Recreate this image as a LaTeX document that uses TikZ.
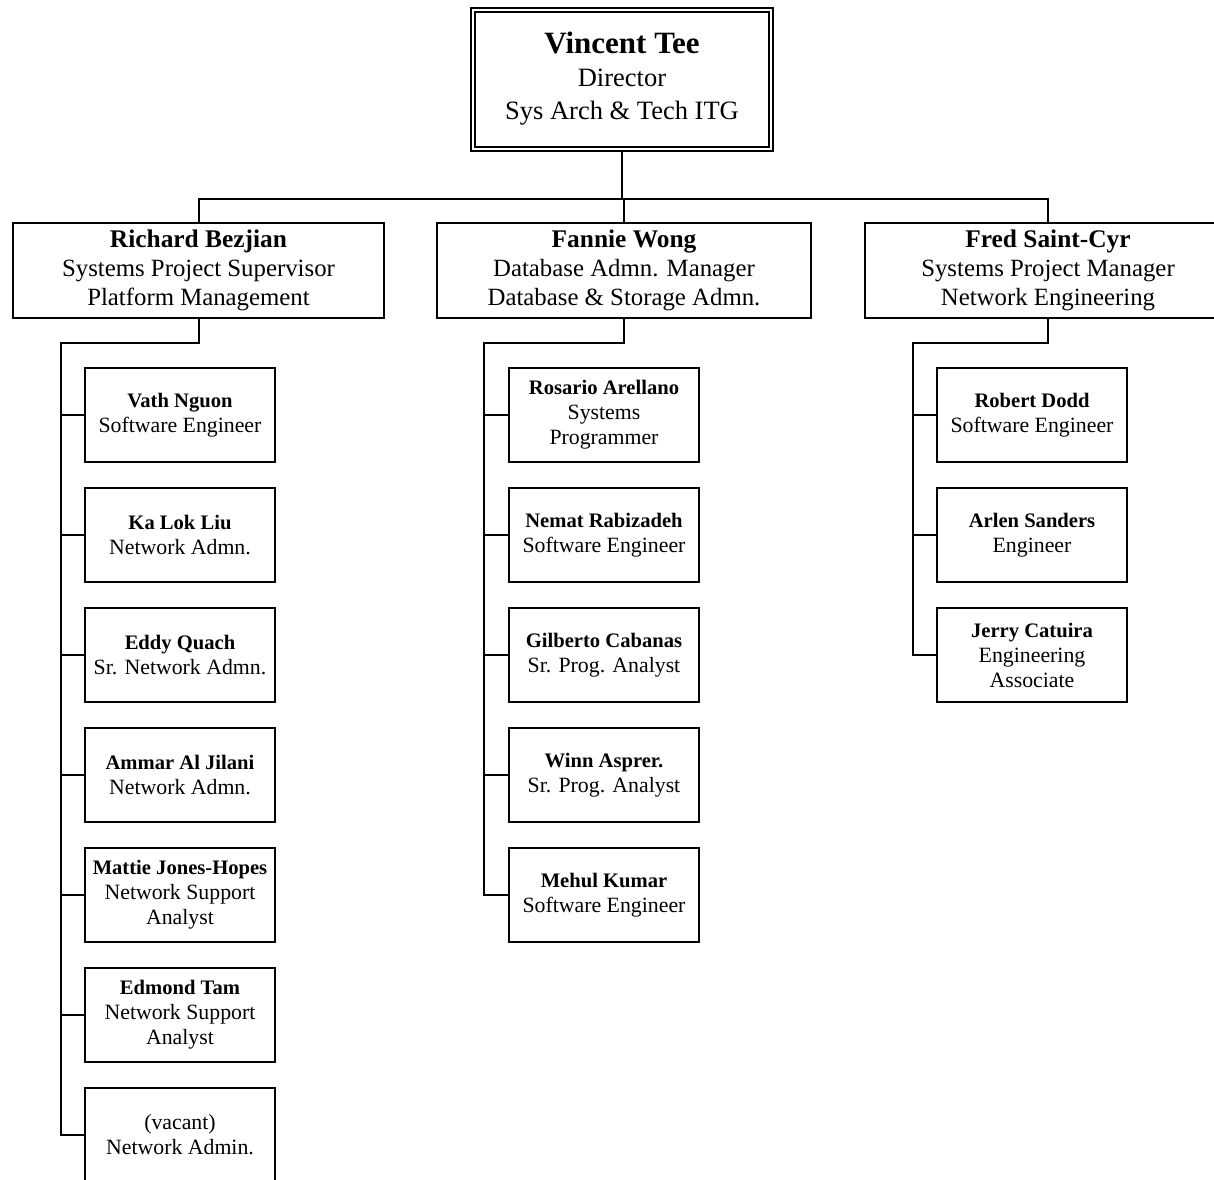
\documentclass[tikz,border=0pt]{standalone}
\usepackage{fontspec}
\setmainfont{Liberation Serif}
\usetikzlibrary{calc}
\newcommand{\dirname}{\fontsize{31}{33}\selectfont\bfseries}
\newcommand{\mgrname}{\fontsize{25.4}{29}\selectfont\bfseries}
\newcommand{\stfname}{\fontsize{20.6}{25}\selectfont\bfseries}
\begin{document}
\begin{tikzpicture}[x=1pt,y=-1pt,
  line width=2pt,
  every node/.style={align=center, inner sep=0pt},
  dirbox/.style={draw, minimum width=302pt, minimum height=143pt, font=\fontsize{26.5}{33}\selectfont},
  mgrbox/.style={draw, minimum height=95pt, font=\fontsize{24.8}{29}\selectfont},
  staffbox/.style={draw, minimum width=190pt, minimum height=94pt, font=\fontsize{21.8}{25}\selectfont},
  conn/.style={line width=2pt}
]
\clip (0,0) rectangle (1214,1179);
\fill[white] (0,0) rectangle (1214,1179);

% Director
\node[dirbox] (dir) at (622,79) {{\dirname Vincent Tee}\\Director\\Sys Arch \& Tech ITG};
\draw ([shift={(5pt,-5pt)}]dir.north west) rectangle ([shift={(-5pt,5pt)}]dir.south east);

% Managers
\node[mgrbox, minimum width=371pt] (rb) at (198.5,270.5) {{\mgrname Richard Bezjian}\\Systems Project Supervisor\\Platform Management};
\node[mgrbox, minimum width=374pt] (fw) at (624,270.5) {{\mgrname Fannie Wong}\\Database Admn. Manager\\Database \& Storage Admn.};
\node[mgrbox, minimum width=366pt] (fsc) at (1048,270.5) {{\mgrname Fred Saint-Cyr}\\Systems Project Manager\\Network Engineering};

\coordinate (topbus) at (622,199);
\draw[conn] (dir.south) -- (dir.south |- topbus);
\draw[conn] (rb.north) |- (topbus -| fsc.north) -- (fsc.north);
\draw[conn] (fw.north) -- (fw.north |- topbus);

% Richard's staff
\node[staffbox] (rb1) at (180,415) {{\stfname Vath Nguon}\\Software Engineer};
\node[staffbox] (rb2) at (180,535) {{\stfname Ka Lok Liu}\\Network Admn.};
\node[staffbox] (rb3) at (180,655) {{\stfname Eddy Quach}\\Sr. Network Admn.};
\node[staffbox] (rb4) at (180,775) {{\stfname Ammar Al Jilani}\\Network Admn.};
\node[staffbox] (rb5) at (180,895) {{\stfname Mattie Jones-Hopes}\\Network Support\\Analyst};
\node[staffbox] (rb6) at (180,1015) {{\stfname Edmond Tam}\\Network Support\\Analyst};
\node[staffbox] (rb7) at (180,1135) {(vacant)\\Network Admin.};

\coordinate (rbt) at (61,343);
\draw[conn] (rb.south) |- (rbt) -- (rbt |- rb7.west) -- (rb7.west);
\foreach \k in {1,...,6} \draw[conn] (rbt |- rb\k.west) -- (rb\k.west);

% Fannie's staff
\node[staffbox] (fw1) at (604,415) {{\stfname Rosario Arellano}\\Systems\\Programmer};
\node[staffbox] (fw2) at (604,535) {{\stfname Nemat Rabizadeh}\\Software Engineer};
\node[staffbox] (fw3) at (604,655) {{\stfname Gilberto Cabanas}\\Sr. Prog. Analyst};
\node[staffbox] (fw4) at (604,775) {{\stfname Winn Asprer.}\\Sr. Prog. Analyst};
\node[staffbox] (fw5) at (604,895) {{\stfname Mehul Kumar}\\Software Engineer};

\coordinate (fwt) at (484,343);
\draw[conn] (fw.south) |- (fwt) -- (fwt |- fw5.west) -- (fw5.west);
\foreach \k in {1,...,4} \draw[conn] (fwt |- fw\k.west) -- (fw\k.west);

% Fred's staff
\node[staffbox] (fs1) at (1032,415) {{\stfname Robert Dodd}\\Software Engineer};
\node[staffbox] (fs2) at (1032,535) {{\stfname Arlen Sanders}\\Engineer};
\node[staffbox] (fs3) at (1032,655) {{\stfname Jerry Catuira}\\Engineering\\Associate};

\coordinate (fst) at (913,343);
\draw[conn] (fsc.south) |- (fst) -- (fst |- fs3.west) -- (fs3.west);
\foreach \k in {1,2} \draw[conn] (fst |- fs\k.west) -- (fs\k.west);
\end{tikzpicture}
\end{document}
